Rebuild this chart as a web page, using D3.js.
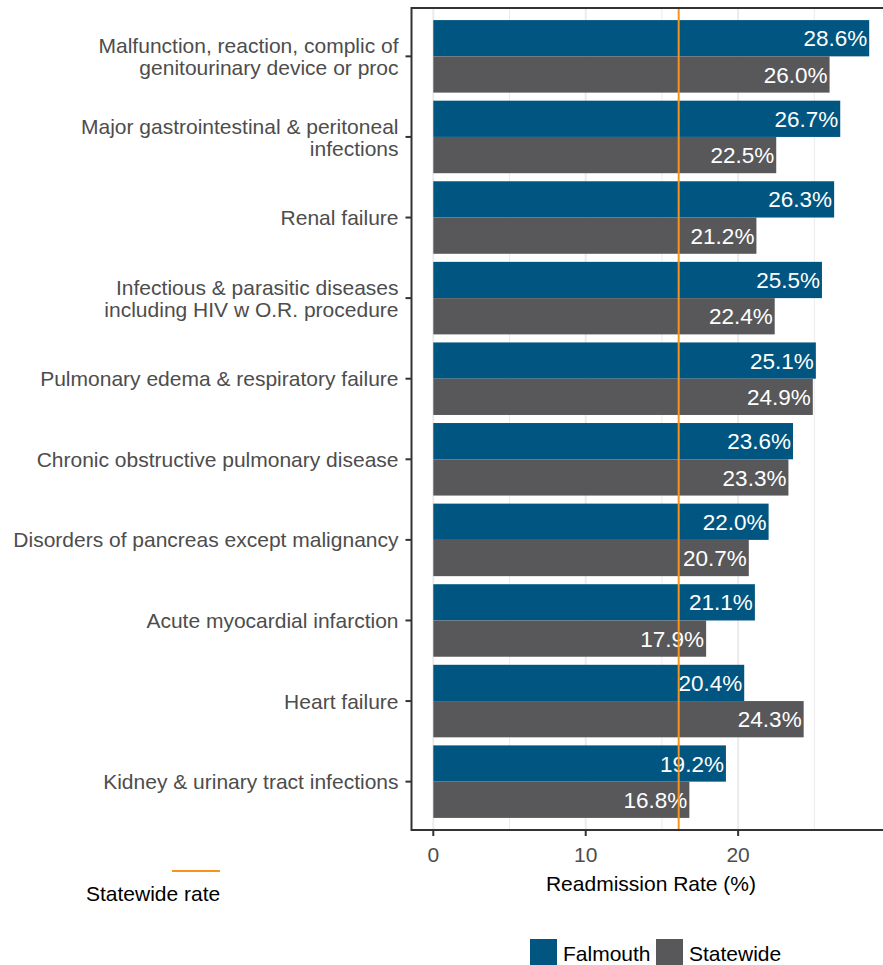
<!DOCTYPE html>
<html><head><meta charset="utf-8">
<script src="https://cdn.jsdelivr.net/npm/d3@7"></script>
<style>body{margin:0;background:#fff}svg{display:block;font-family:"Liberation Sans",Arial,sans-serif}</style>
</head><body><svg id="c" width="883" height="965"></svg>
<script>
const categories = [
  ["Malfunction, reaction, complic of","genitourinary device or proc"],
  ["Major gastrointestinal & peritoneal","infections"],
  ["Renal failure"],
  ["Infectious & parasitic diseases","including HIV w O.R. procedure"],
  ["Pulmonary edema & respiratory failure"],
  ["Chronic obstructive pulmonary disease"],
  ["Disorders of pancreas except malignancy"],
  ["Acute myocardial infarction"],
  ["Heart failure"],
  ["Kidney & urinary tract infections"]
];
const falmouth = [28.6, 26.7, 26.3, 25.5, 25.1, 23.6, 22.0, 21.1, 20.4, 19.2];
const statewide = [26.0, 22.5, 21.2, 22.4, 24.9, 23.3, 20.7, 17.9, 24.3, 16.8];
const statewideRate = 16.1;
const xTicks = [0, 10, 20];
const seriesNames = ["Falmouth", "Statewide"];
const colors = ["#005680", "#58585b"];

const svg = d3.select("#c");
const pL = 411.5, pR = 891, pT = 8, pB = 830;
const fs = 21, vfs = 22.5;
const x = d3.scaleLinear().domain([-1.43, 30.03]).range([pL, pR]);
const idx = d3.range(categories.length);
const y = d3.scaleLinear().domain([-0.6, categories.length - 1 + 0.6]).range([pT, pB]);
const bw = (y(1) - y(0)) * 0.9;

// grid
const g = svg.append("g");
[5, 15, 25].forEach(v => g.append("line").attr("x1", x(v)).attr("x2", x(v)).attr("y1", pT).attr("y2", pB).attr("stroke", "#ebebeb").attr("stroke-width", 1));
xTicks.forEach(v => g.append("line").attr("x1", x(v)).attr("x2", x(v)).attr("y1", pT).attr("y2", pB).attr("stroke", "#ebebeb").attr("stroke-width", 2));

// bars
const data = [];
idx.forEach(i => {
  data.push({i, s: 0, v: falmouth[i]});
  data.push({i, s: 1, v: statewide[i]});
});
svg.append("g").selectAll("rect").data(data).join("rect")
  .attr("x", x(0))
  .attr("y", d => y(d.i) - bw / 2 + d.s * bw / 2)
  .attr("width", d => x(d.v) - x(0))
  .attr("height", bw / 2)
  .attr("fill", d => colors[d.s]);

svg.append("g").selectAll("text").data(data).join("text")
  .attr("x", d => x(d.v) - 2)
  .attr("y", d => y(d.i) - bw / 2 + d.s * bw / 2 + bw / 4)
  .attr("dy", "0.36em")
  .attr("text-anchor", "end")
  .attr("fill", "#fff")
  .attr("font-size", vfs)
  .text(d => d.v.toFixed(1) + "%");

// statewide line
svg.append("line").attr("x1", x(statewideRate)).attr("x2", x(statewideRate)).attr("y1", pT).attr("y2", pB)
  .attr("stroke", "#f7941d").attr("stroke-width", 2);

// panel border
svg.append("rect").attr("x", pL).attr("y", pT).attr("width", pR - pL).attr("height", pB - pT)
  .attr("fill", "none").attr("stroke", "#333").attr("stroke-width", 2);

// y axis
const ya = svg.append("g");
idx.forEach(i => {
  ya.append("line").attr("x1", pL - 6).attr("x2", pL).attr("y1", y(i)).attr("y2", y(i)).attr("stroke", "#333").attr("stroke-width", 2);
  const lines = categories[i];
  const t = ya.append("text").attr("text-anchor", "end").attr("fill", "#4d4d4d").attr("font-size", fs);
  lines.forEach((l, k) => {
    t.append("tspan").attr("x", pL - 13)
      .attr("y", y(i) + (k - (lines.length - 1) / 2) * 22)
      .attr("dy", "0.36em").text(l);
  });
});

// x axis
const xa = svg.append("g");
xTicks.forEach(v => {
  xa.append("line").attr("x1", x(v)).attr("x2", x(v)).attr("y1", pB).attr("y2", pB + 6).attr("stroke", "#333").attr("stroke-width", 2);
  xa.append("text").attr("x", x(v)).attr("y", pB + 24).attr("dy", "0.36em").attr("text-anchor", "middle")
    .attr("fill", "#4d4d4d").attr("font-size", fs).text(v);
});
svg.append("text").attr("x", 651).attr("y", 883).attr("dy", "0.36em").attr("text-anchor", "middle")
  .attr("fill", "#000").attr("font-size", fs).text("Readmission Rate (%)");

// statewide rate legend
svg.append("line").attr("x1", 172).attr("x2", 220).attr("y1", 871).attr("y2", 871).attr("stroke", "#f7941d").attr("stroke-width", 2);
svg.append("text").attr("x", 86).attr("y", 893).attr("dy", "0.36em").attr("fill", "#000").attr("font-size", fs).text("Statewide rate");

// series legend
const lg = svg.append("g");
const lx = [530, 656];
seriesNames.forEach((n, k) => {
  lg.append("rect").attr("x", lx[k]).attr("y", 939).attr("width", 27).attr("height", 26).attr("fill", colors[k]);
  lg.append("text").attr("x", lx[k] + 33).attr("y", 953).attr("dy", "0.36em").attr("fill", "#000").attr("font-size", fs).text(n);
});
</script></body></html>
